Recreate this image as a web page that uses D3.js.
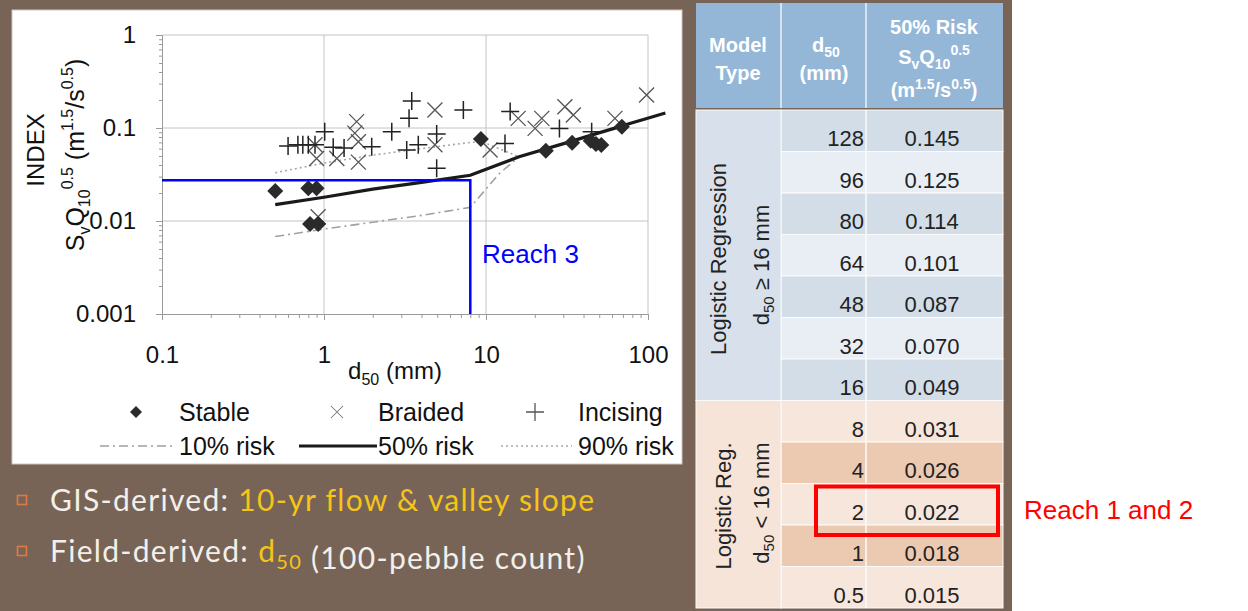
<!DOCTYPE html>
<html>
<head>
<meta charset="utf-8">
<script src="https://cdn.jsdelivr.net/npm/d3@7"></script>
<style>
  body { margin: 0; background: #fff; }
  svg { display: block; }
  text { font-family: "Liberation Sans", Arial, sans-serif; }
</style>
</head>
<body>
<div id="app"></div>
<script>
// ---- data ----
// observed reaches [d50 (mm), SvQ10^0.5]
const stable = [[0.5, 0.021], [0.8, 0.0225], [0.9, 0.0225], [0.82, 0.0093], [0.92, 0.0093],
  [9.3, 0.076], [23.4, 0.057], [34, 0.0695], [44.3, 0.073], [47.7, 0.0673], [51.5, 0.0657], [69, 0.103]]
const braided = [[0.9, 0.047], [0.88, 0.066], [1.2, 0.047], [1.59, 0.117], [1.55, 0.088], [1.63, 0.071],
  [1.63, 0.043], [0.92, 0.0111], [4.84, 0.156], [4.84, 0.066], [10.6, 0.058], [15.8, 0.127],
  [20.1, 0.099], [22.1, 0.127], [30.7, 0.169], [34.6, 0.138], [62.5, 0.127], [98, 0.226]]
const incising = [[0.6, 0.064], [0.69, 0.066], [0.74, 0.066], [0.8, 0.066], [0.88, 0.066], [1.01, 0.091],
  [1.14, 0.062], [1.33, 0.061], [1.97, 0.063], [2.62, 0.091], [3.48, 0.195], [3.35, 0.127],
  [3.24, 0.058], [3.82, 0.066], [4.96, 0.086], [4.96, 0.037], [7.25, 0.156], [14.1, 0.15],
  [13.1, 0.068], [28.4, 0.099], [44.9, 0.091]]

// 50% risk threshold (also the table)
const riskD50 = [128, 96, 80, 64, 48, 32, 16, 8, 4, 2, 1, 0.5]
const risk50 = [0.145, 0.125, 0.114, 0.101, 0.087, 0.070, 0.049, 0.031, 0.026, 0.022, 0.018, 0.015]
// 10% and 90% risk curves
const risk10 = [[0.5, 0.0068], [1, 0.0082], [2, 0.0097], [4, 0.0115], [8, 0.014], [12, 0.032], [16, 0.049]]
const risk90 = [[0.5, 0.033], [1, 0.042], [2, 0.051], [4, 0.06], [8, 0.07], [9.5, 0.071], [16, 0.049]]
// Reach 3
const reach3 = [8, 0.0275]

const xTicks = [0.1, 1, 10, 100]
const yTicks = [0.001, 0.01, 0.1, 1]

const brown = '#786357'
const W = 1248, H = 611

const svg = d3.select('#app').append('svg').attr('width', W).attr('height', H)
svg.append('rect').attr('width', W).attr('height', H).attr('fill', '#fff')
svg.append('rect').attr('width', 1012).attr('height', H).attr('fill', brown)

// chart panel
svg.append('rect').attr('x', 12).attr('y', 10).attr('width', 670).attr('height', 454)
  .attr('fill', '#fff').attr('stroke', '#cfc6bf')

const x = d3.scaleLog().domain([0.1, 100]).range([162, 648])
const y = d3.scaleLog().domain([0.001, 1]).range([314, 35])

const minor = function (lo, hi) {
  const out = []
  for (let e = lo; e < hi; e++) for (let m = 2; m <= 9; m++) out.push(m * Math.pow(10, e))
  return out
}

// grid
const grid = svg.append('g').attr('stroke', '#c4c4c4').attr('stroke-width', 1)
xTicks.slice(1).forEach(function (t) {
  grid.append('line').attr('x1', x(t)).attr('x2', x(t)).attr('y1', y(1)).attr('y2', y(0.001))
})
yTicks.slice(1).forEach(function (t) {
  grid.append('line').attr('x1', x(0.1)).attr('x2', x(100)).attr('y1', y(t)).attr('y2', y(t))
})

// axes
const xAxis = svg.append('g').attr('transform', 'translate(0,' + y(0.001) + ')')
  .call(d3.axisBottom(x).tickValues(xTicks).tickSize(6).tickPadding(26).tickFormat(d3.format('~g')))
const xMinor = svg.append('g').attr('transform', 'translate(0,' + y(0.001) + ')')
  .call(d3.axisBottom(x).tickValues(minor(-1, 2)).tickSize(4).tickFormat(''))
const yAxis = svg.append('g').attr('transform', 'translate(' + x(0.1) + ',0)')
  .call(d3.axisLeft(y).tickValues(yTicks).tickSize(6).tickPadding(20).tickFormat(d3.format('~g')))
const yMinor = svg.append('g').attr('transform', 'translate(' + x(0.1) + ',0)')
  .call(d3.axisLeft(y).tickValues(minor(-3, 0)).tickSize(3).tickFormat(''))
;[xAxis, xMinor, yAxis, yMinor].forEach(function (g) {
  g.selectAll('path, line').attr('stroke', '#9a9a9a')
  g.selectAll('text').attr('fill', '#111').style('font-size', '24px')
    .style('font-family', '"Liberation Sans", Arial, sans-serif')
})
xMinor.select('.domain').remove()
yMinor.select('.domain').remove()

// axis titles
const xt = svg.append('text').attr('x', 395).attr('y', 379).attr('text-anchor', 'middle')
  .style('font-size', '24px').attr('fill', '#111')
xt.append('tspan').text('d')
xt.append('tspan').attr('dy', 6).style('font-size', '16px').text('50')
xt.append('tspan').attr('dy', -6).text(' (mm)')

svg.append('text').attr('transform', 'translate(44,150) rotate(-90)').attr('text-anchor', 'middle')
  .style('font-size', '24px').attr('fill', '#111').text('INDEX')
const yt = svg.append('text').attr('transform', 'translate(84,155) rotate(-90)').attr('text-anchor', 'middle')
  .style('font-size', '25px').attr('fill', '#111')
yt.append('tspan').text('S')
yt.append('tspan').attr('dy', 6).style('font-size', '16px').text('v')
yt.append('tspan').attr('dy', -6).text('Q')
yt.append('tspan').attr('dy', 6).style('font-size', '16px').text('10')
yt.append('tspan').attr('dy', -17).style('font-size', '16px').text('0.5')
yt.append('tspan').attr('dy', 11).text(' (m')
yt.append('tspan').attr('dy', -11).style('font-size', '16px').text('1.5')
yt.append('tspan').attr('dy', 11).text('/s')
yt.append('tspan').attr('dy', -11).style('font-size', '16px').text('0.5')
yt.append('tspan').attr('dy', 11).text(')')

// risk curves
const line = d3.line().x(d => x(d[0])).y(d => y(d[1]))
const curve50 = riskD50.map((d, i) => [d, risk50[i]]).reverse()
svg.append('path').datum(risk10).attr('d', line).attr('fill', 'none')
  .attr('stroke', '#a0a0a0').attr('stroke-width', 1.6).attr('stroke-dasharray', '9,4,2,4')
svg.append('path').datum(risk90).attr('d', line).attr('fill', 'none')
  .attr('stroke', '#a8a8a8').attr('stroke-width', 1.6).attr('stroke-dasharray', '2,3')

// markers
const diamond = 'M0,-8L8,0L0,8L-8,0Z'
const cross = 'M-7.5,-7.5L7.5,7.5M-7.5,7.5L7.5,-7.5'
const plus = 'M-9,0H9M0,-9V9'

svg.append('g').selectAll('path').data(braided).join('path')
  .attr('transform', d => 'translate(' + x(d[0]) + ',' + y(d[1]) + ')')
  .attr('d', cross).attr('stroke', '#555').attr('stroke-width', 1.3).attr('fill', 'none')
svg.append('g').selectAll('path').data(incising).join('path')
  .attr('transform', d => 'translate(' + x(d[0]) + ',' + y(d[1]) + ')')
  .attr('d', plus).attr('stroke', '#222').attr('stroke-width', 1.5).attr('fill', 'none')

svg.append('path').datum(curve50).attr('d', line).attr('fill', 'none')
  .attr('stroke', '#1a1a1a').attr('stroke-width', 3.2)

svg.append('g').selectAll('path').data(stable).join('path')
  .attr('transform', d => 'translate(' + x(d[0]) + ',' + y(d[1]) + ')')
  .attr('d', diamond).attr('fill', '#2a2a2a')

// reach 3
svg.append('path')
  .attr('d', 'M' + x(0.1) + ',' + y(reach3[1]) + 'H' + x(reach3[0]) + 'V' + y(0.001))
  .attr('fill', 'none').attr('stroke', '#0000ff').attr('stroke-width', 2.5)
svg.append('text').attr('x', 482).attr('y', 263).attr('fill', '#0000ff')
  .style('font-size', '26px').text('Reach 3')

// legend
const lg = svg.append('g').style('font-size', '25px').attr('fill', '#111')
lg.append('path').attr('transform', 'translate(136,412) scale(0.75)').attr('d', diamond).attr('fill', '#2a2a2a')
lg.append('text').attr('x', 179).attr('y', 421).text('Stable')
lg.append('path').attr('transform', 'translate(337,412) scale(0.8)').attr('d', cross)
  .attr('stroke', '#777').attr('stroke-width', 1.3).attr('fill', 'none')
lg.append('text').attr('x', 378).attr('y', 421).text('Braided')
lg.append('path').attr('transform', 'translate(535,412)').attr('d', plus)
  .attr('stroke', '#555').attr('stroke-width', 1.3).attr('fill', 'none')
lg.append('text').attr('x', 578).attr('y', 421).text('Incising')
lg.append('line').attr('x1', 100).attr('x2', 172).attr('y1', 446).attr('y2', 446)
  .attr('stroke', '#a0a0a0').attr('stroke-width', 1.6).attr('stroke-dasharray', '9,4,2,4')
lg.append('text').attr('x', 179).attr('y', 455).text('10% risk')
lg.append('line').attr('x1', 299).attr('x2', 377).attr('y1', 446).attr('y2', 446)
  .attr('stroke', '#1a1a1a').attr('stroke-width', 3)
lg.append('text').attr('x', 378).attr('y', 455).text('50% risk')
lg.append('line').attr('x1', 501).attr('x2', 572).attr('y1', 446).attr('y2', 446)
  .attr('stroke', '#a8a8a8').attr('stroke-width', 1.5).attr('stroke-dasharray', '2,3')
lg.append('text').attr('x', 578).attr('y', 455).text('90% risk')

// bullets under chart
const bf = 'Lato, "Open Sans", sans-serif'
const bullets = [
  { y: 511, parts: [['GIS-derived: ', '#f3efea'], ['10-yr flow & valley slope', '#f5c518']] },
  { y: 562, parts: [['Field-derived: ', '#f3efea'], ['d', '#f5c518', 'sub50'], [' (100-pebble count)', '#f3efea']] }
]
bullets.forEach(function (b) {
  svg.append('rect').attr('x', 17.5).attr('y', b.y - 15.5).attr('width', 9).attr('height', 9)
    .attr('fill', 'none').attr('stroke', '#e07a45').attr('stroke-width', 1.6)
  const t = svg.append('text').attr('x', 50).attr('y', b.y).style('font-family', bf)
    .style('font-size', '30px').style('letter-spacing', '1.3px')
  b.parts.forEach(function (p) {
    t.append('tspan').attr('fill', p[1]).text(p[0])
    if (p[2]) t.append('tspan').attr('fill', p[1]).attr('dy', 7).style('font-size', '20px').text('50')
    if (p[2]) t.append('tspan').attr('dy', -7).text('')
  })
})

// ---- table ----
const colX = [696, 781, 866, 1003]
const hdr = svg.append('g')
hdr.append('rect').attr('x', colX[0]).attr('y', 3).attr('width', colX[3] - colX[0]).attr('height', 105)
  .attr('fill', '#94b6d7')
const ht = function (xx, yy) {
  return hdr.append('text').attr('x', xx).attr('y', yy).attr('text-anchor', 'middle')
    .attr('fill', '#fff').style('font-size', '20px').style('font-weight', 'bold')
}
ht(738, 52).text('Model')
ht(738, 80).text('Type')
const dh = ht(826, 52)
dh.append('tspan').text('d')
dh.append('tspan').attr('dy', 5).style('font-size', '14px').text('50')
ht(824, 80).text('(mm)')
ht(934, 34).text('50% Risk')
const sq = ht(934, 64)
sq.append('tspan').text('S')
sq.append('tspan').attr('dy', 5).style('font-size', '14px').text('v')
sq.append('tspan').attr('dy', -5).text('Q')
sq.append('tspan').attr('dy', 5).style('font-size', '14px').text('10')
sq.append('tspan').attr('dy', -14).style('font-size', '14px').text('0.5')
const un = ht(934, 97)
un.append('tspan').text('(m')
un.append('tspan').attr('dy', -8).style('font-size', '14px').text('1.5')
un.append('tspan').attr('dy', 8).text('/s')
un.append('tspan').attr('dy', -8).style('font-size', '14px').text('0.5')
un.append('tspan').attr('dy', 8).text(')')
;[colX[1], colX[2]].forEach(function (cx) {
  hdr.append('line').attr('x1', cx).attr('x2', cx).attr('y1', 3).attr('y2', 108).attr('stroke', '#eef3f8').attr('stroke-width', 1.5)
})

const rows = d3.scaleBand().domain(d3.range(riskD50.length)).range([110, 608])
const rowFill = function (i) {
  if (i < 7) return i % 2 === 0 ? '#d3dde8' : '#e9eef4'
  return i % 2 === 0 ? '#eccab2' : '#f7e6dc'
}
const body = svg.append('g')
body.selectAll('rect.row').data(riskD50).join('rect').attr('class', 'row')
  .attr('x', colX[1]).attr('y', (d, i) => rows(i)).attr('width', colX[3] - colX[1])
  .attr('height', rows.bandwidth()).attr('fill', (d, i) => rowFill(i))
  .attr('stroke', '#fbfbfb').attr('stroke-width', 1)
body.append('rect').attr('x', colX[0]).attr('y', rows(0)).attr('width', colX[1] - colX[0])
  .attr('height', rows(7) - rows(0)).attr('fill', '#d8e1eb').attr('stroke', '#fbfbfb')
body.append('rect').attr('x', colX[0]).attr('y', rows(7)).attr('width', colX[1] - colX[0])
  .attr('height', 608 - rows(7)).attr('fill', '#f6e4d9').attr('stroke', '#fbfbfb')
body.append('line').attr('x1', colX[2]).attr('x2', colX[2]).attr('y1', 110).attr('y2', 608)
  .attr('stroke', '#fbfbfb').attr('stroke-width', 1.5)
body.selectAll('text.d').data(riskD50).join('text').attr('class', 'd')
  .attr('x', colX[2] - 2).attr('y', (d, i) => rows(i) + 36).attr('text-anchor', 'end')
  .attr('fill', '#222').style('font-size', '22px').text(d => d3.format('~g')(d))
body.selectAll('text.r').data(risk50).join('text').attr('class', 'r')
  .attr('x', 932).attr('y', (d, i) => rows(i) + 36).attr('text-anchor', 'middle')
  .attr('fill', '#222').style('font-size', '22px').text(d => d3.format('.3f')(d))

const vt = function (xx, yy) {
  return body.append('text').attr('transform', 'translate(' + xx + ',' + yy + ') rotate(-90)')
    .attr('text-anchor', 'middle').attr('fill', '#222').style('font-size', '22px')
}
vt(726, 259).text('Logistic Regression')
const g1 = vt(769, 265)
g1.append('tspan').text('d')
g1.append('tspan').attr('dy', 5).style('font-size', '15px').text('50')
g1.append('tspan').attr('dy', -5).text(' \u2265 16 mm')
vt(731, 506).text('Logistic Reg.')
const g2 = vt(769, 503)
g2.append('tspan').text('d')
g2.append('tspan').attr('dy', 5).style('font-size', '15px').text('50')
g2.append('tspan').attr('dy', -5).text(' < 16 mm')

// reach 1 and 2 highlight
const hi = riskD50.indexOf(2)
svg.append('rect').attr('x', 816).attr('y', rows(hi) + 3).attr('width', 182).attr('height', rows.bandwidth() + 7)
  .attr('fill', 'none').attr('stroke', '#ff0000').attr('stroke-width', 4)
svg.append('text').attr('x', 1024).attr('y', 519).attr('fill', '#ff0000')
  .style('font-size', '26px').text('Reach 1 and 2')
</script>
</body>
</html>
